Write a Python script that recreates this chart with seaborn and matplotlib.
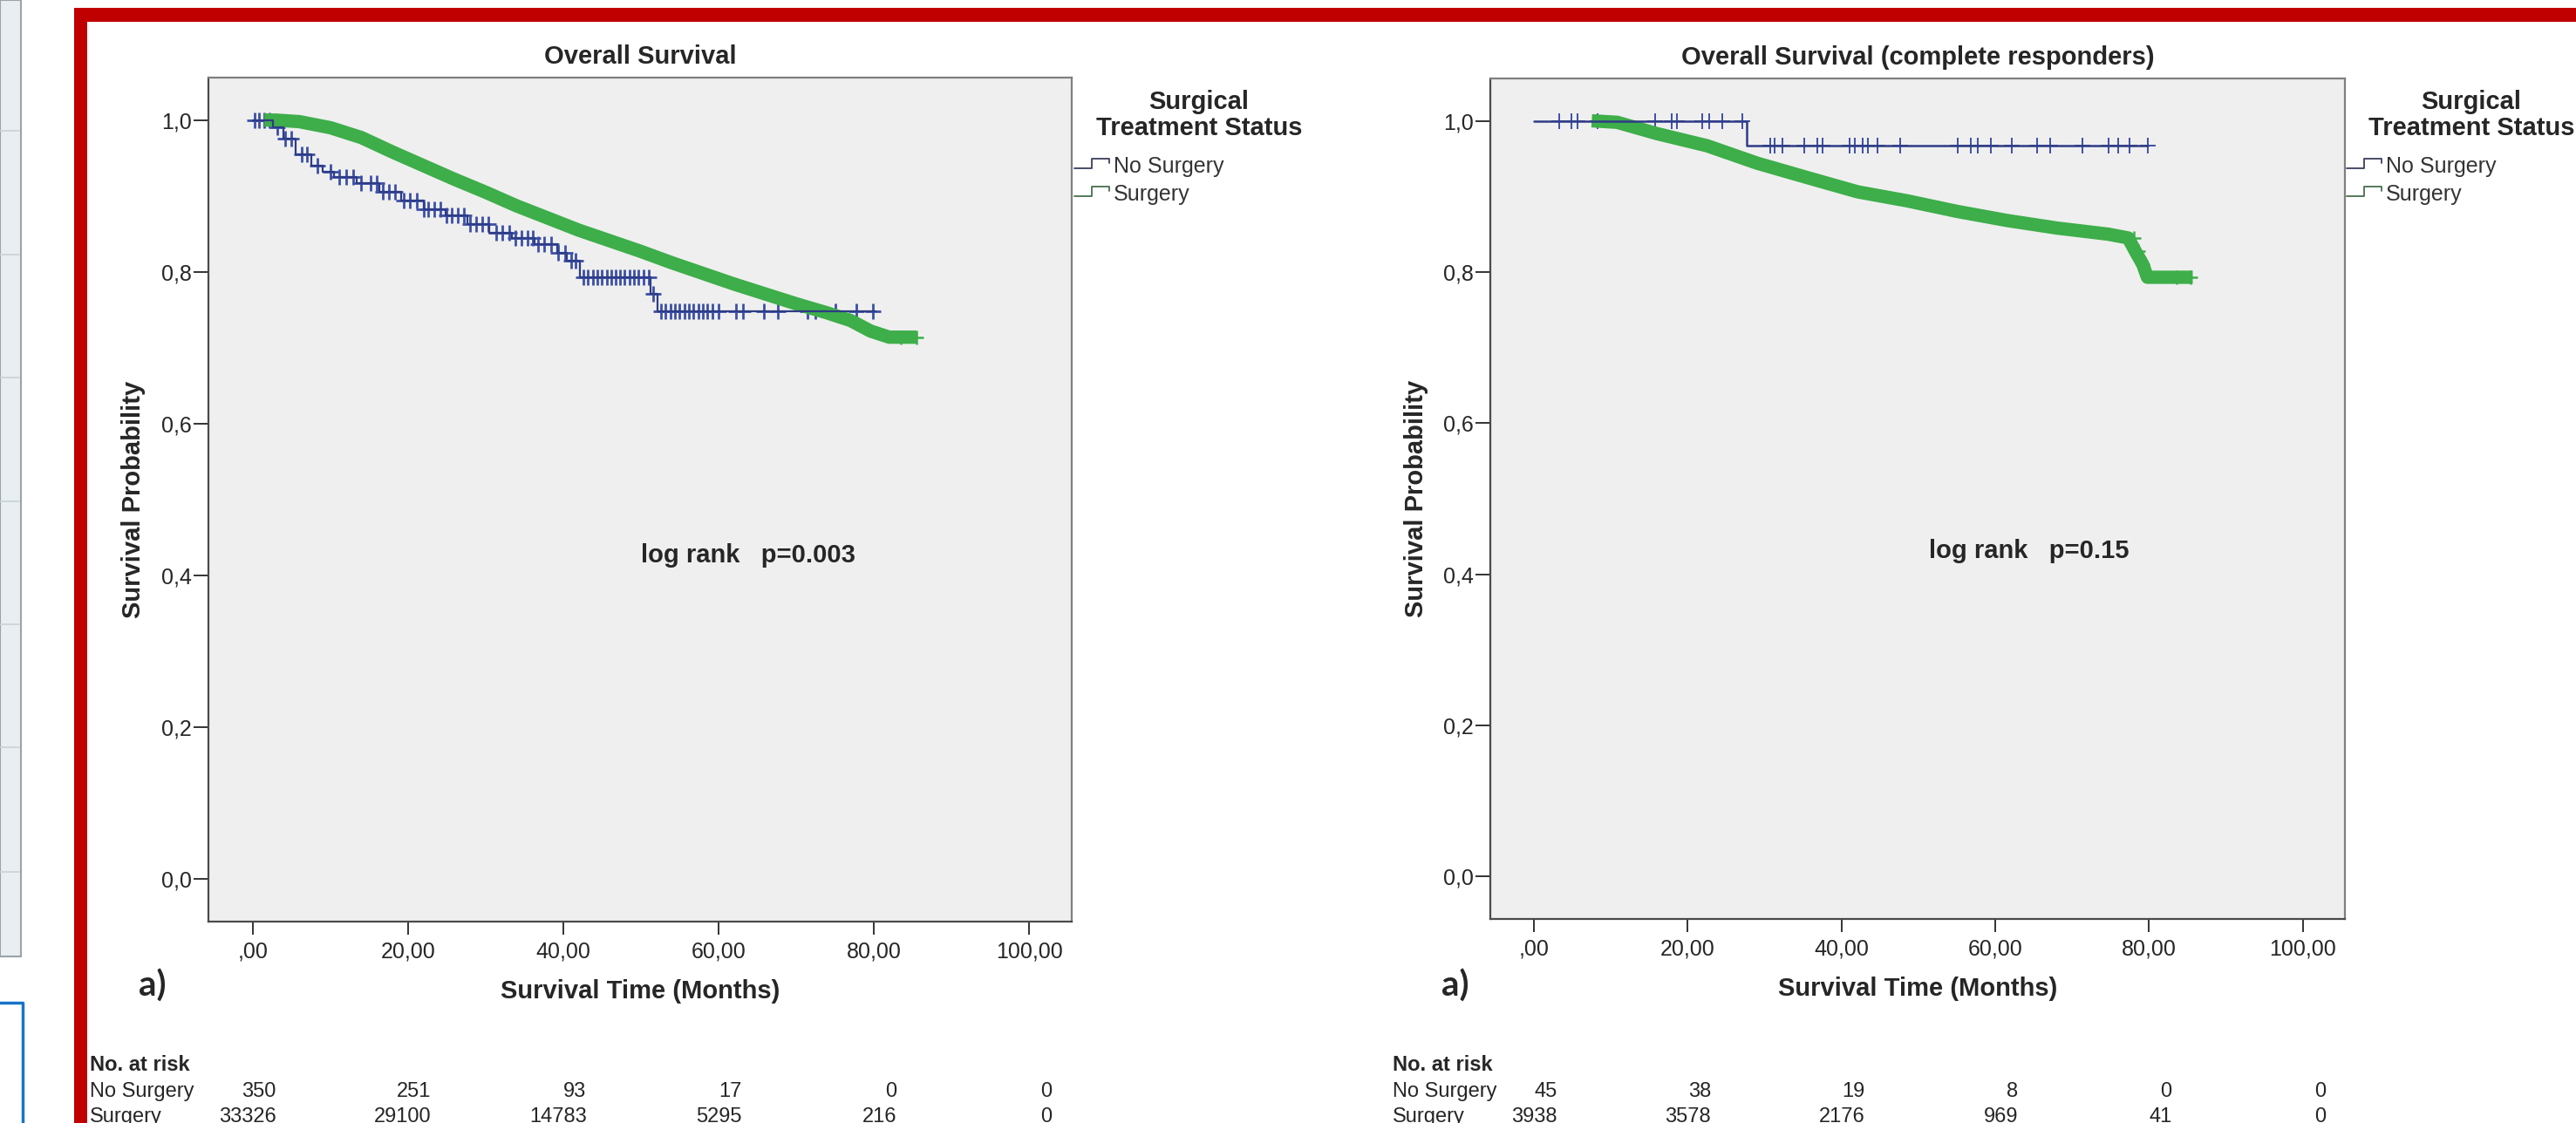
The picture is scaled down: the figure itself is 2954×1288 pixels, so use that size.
import matplotlib
matplotlib.use("Agg")
import matplotlib.pyplot as plt
import matplotlib.transforms as mtransforms
from matplotlib.lines import Line2D
from matplotlib.patches import Rectangle
import numpy as np
import pandas as pd
import seaborn as sns

# Data
months = [0, 20, 40, 60, 80, 100]
x_tick_labels = [",00", "20,00", "40,00", "60,00", "80,00", "100,00"]
y_ticks = [0.0, 0.2, 0.4, 0.6, 0.8, 1.0]
y_tick_labels = ["0,0", "0,2", "0,4", "0,6", "0,8", "1,0"]
groups = ["No Surgery", "Surgery"]

# a) overall survival
os_title = "Overall Survival"
os_ptext = "log rank   p=0.003"
os_nosurg_t = [0, 2.6, 4.0, 5.5, 7.6, 9.0, 10.5, 13.4, 16.3, 19.1, 22.0, 24.8, 27.7, 30.5,
               33.4, 36.3, 39.2, 40.5, 42.2, 51.2, 52.2, 80.2]
os_nosurg_s = [1.0, 0.99, 0.976, 0.955, 0.94, 0.932, 0.925, 0.917, 0.906, 0.894, 0.883, 0.874,
               0.863, 0.852, 0.845, 0.837, 0.825, 0.815, 0.793, 0.771, 0.748, 0.748]
os_nosurg_cens = [0.3, 0.8, 1.5, 2.2, 3.2, 4.2, 5.0, 6.3, 7.0, 8.3, 10.0, 11.2, 12.0, 13.0, 14.0,
                  15.2, 16.0, 16.8, 17.5, 18.3, 19.5, 20.3, 21.2, 22.0, 22.6, 23.4, 24.2, 25.0,
                  25.6, 26.4, 27.2, 28.0, 28.8, 29.6, 30.4, 31.4, 32.2, 33.0, 33.8, 34.6, 35.4,
                  36.1, 36.8, 37.6, 38.4, 39.3, 40.2, 41.0, 41.6, 42.6, 43.2, 43.8, 44.4, 45.0,
                  45.6, 46.2, 46.8, 47.3, 47.9, 48.5, 49.1, 49.7, 50.3, 51.0, 51.6, 52.6, 53.2,
                  53.8, 54.4, 55.0, 55.6, 56.2, 56.8, 57.4, 58.0, 58.6, 59.2, 60.0, 62.3, 63.2,
                  65.8, 67.7, 71.5, 72.5, 75.1, 77.7, 79.9]
os_surg_t = [1.5, 3, 6, 10, 14, 18, 22, 26, 30, 34, 38, 42, 46, 50, 54, 58, 62, 66, 70, 74, 77,
             79.6, 82, 85.5]
os_surg_s = [1.0, 1.0, 0.998, 0.99, 0.977, 0.958, 0.94, 0.922, 0.905, 0.887, 0.871, 0.855, 0.841,
             0.827, 0.812, 0.798, 0.784, 0.771, 0.758, 0.746, 0.736, 0.722, 0.714, 0.714]
os_surg_cens = [83.5, 85.5]
os_risk_nosurg = [350, 251, 93, 17, 0, 0]
os_risk_surg = [33326, 29100, 14783, 5295, 216, 0]

# b) complete responders
cr_title = "Overall Survival (complete responders)"
cr_ptext = "log rank   p=0.15"
cr_nosurg_t = [0, 27.7, 79.8]
cr_nosurg_s = [1.0, 0.967, 0.967]
cr_nosurg_cens = [3.3, 4.9, 5.6, 8.2, 15.7, 17.9, 18.6, 21.9, 22.8, 24.5, 27.1, 30.7, 31.3, 32.3,
                  35.2, 36.9, 37.5, 41.1, 41.7, 42.7, 43.4, 44.7, 47.6, 55.1, 56.8, 57.7, 59.4,
                  62.2, 65.5, 67.2, 71.4, 74.7, 76.0, 77.5, 79.8]
cr_surg_t = [7.5, 10.8, 16.0, 22.5, 29.0, 35.5, 42.1, 48.6, 55.1, 61.6, 68.1, 74.7, 77.3, 78.2,
             79.2, 79.8, 85.7]
cr_surg_s = [1.0, 0.998, 0.983, 0.967, 0.944, 0.925, 0.906, 0.894, 0.880, 0.868, 0.858, 0.850,
             0.845, 0.828, 0.810, 0.793, 0.793]
cr_surg_cens = [78.0, 78.6, 79.2, 83.6, 85.4]
cr_risk_nosurg = [45, 38, 19, 8, 0, 0]
cr_risk_surg = [3938, 3578, 2176, 969, 41, 0]

# Style
sns.set_style("white")
plt.rcParams["font.family"] = ["Liberation Sans", "DejaVu Sans"]

W, H = 2954, 1288
fig = plt.figure(figsize=(W / 100, H / 100), dpi=100)
fig.patch.set_facecolor("white")

GREEN = "#3DAE49"
BLUE_LINE = "#2E3C86"
BLUE_MARK = "#3D50A5"


def fx(x):
    return x / W


def fy(y):
    return 1 - y / H


def step_at(t, s, x):
    idx = np.searchsorted(np.array(t), np.array(x), side="right") - 1
    return np.array(s)[np.clip(idx, 0, len(s) - 1)]


# page decorations: side strip, blue box, red frame
fig.add_artist(Rectangle((0, fy(1097)), fx(24), 1 - fy(1097), transform=fig.transFigure,
                         facecolor="#E8EEF2", edgecolor="#9AA3A8", lw=1.5))
for yy in [150, 292, 433, 575, 716, 857, 1000]:
    fig.add_artist(Line2D([0, fx(22)], [fy(yy), fy(yy)], transform=fig.transFigure,
                          color="#C9D2D8", lw=1.2))
fig.add_artist(Line2D([0, fx(26), fx(26)], [fy(1150), fy(1150), 0], transform=fig.transFigure,
                      color="#1874C8", lw=2.5))
fig.add_artist(Rectangle((fx(85), fy(25)), 1, fy(9) - fy(25), transform=fig.transFigure,
                         facecolor="#C00000", edgecolor="none"))
fig.add_artist(Rectangle((fx(85), 0), fx(15), fy(9), transform=fig.transFigure,
                         facecolor="#C00000", edgecolor="none"))


def km_panel(box, nos_t, nos_s, nos_c, sur_t, sur_s, sur_c, title, ptext, pxy,
             risk_ns, risk_s, mark_s, mark_lw, line_lw, left_px, legend_px):
    ax = fig.add_axes(box)
    ax.set_facecolor("#EFEFEF")

    sur = pd.DataFrame({"t": sur_t, "s": sur_s})
    sns.lineplot(data=sur, x="t", y="s", estimator=None, sort=False, color=GREEN, lw=11,
                 solid_capstyle="butt", ax=ax)
    sns.scatterplot(x=sur_c, y=step_at(sur_t, sur_s, sur_c), marker="+", color=GREEN,
                    s=140, linewidth=1.8, ax=ax)

    nos = pd.DataFrame({"t": nos_t, "s": nos_s})
    sns.lineplot(data=nos, x="t", y="s", estimator=None, sort=False, drawstyle="steps-post",
                 color=BLUE_LINE, lw=line_lw, ax=ax)
    sns.scatterplot(x=nos_c, y=step_at(nos_t, nos_s, nos_c), marker="+", color=BLUE_MARK,
                    s=mark_s, linewidth=mark_lw, ax=ax)

    ax.set_xlim(-5.7, 105.5)
    ax.set_ylim(-0.056, 1.056)
    ax.set_xticks(months)
    ax.set_xticklabels(x_tick_labels)
    ax.set_yticks(y_ticks)
    ax.set_yticklabels(y_tick_labels)
    ax.tick_params(axis="y", length=12, width=1.4, pad=1.5, labelsize=18, color="#333333",
                   left=True)
    ax.tick_params(axis="x", length=11, width=1.4, pad=5, labelsize=18, color="#333333",
                   bottom=True)
    for side in ["left", "bottom"]:
        ax.spines[side].set_color("#4A4A4A")
        ax.spines[side].set_linewidth(1.6)
    for side in ["top", "right"]:
        ax.spines[side].set_color("#7F7F7F")
        ax.spines[side].set_linewidth(1.6)

    ax.set_ylabel("Survival Probability", fontsize=21, fontweight="bold")
    ax.yaxis.set_label_coords(-0.087, 0.5)
    ax.yaxis.label.set_va("center")
    ax.set_xlabel("Survival Time (Months)", fontsize=21, fontweight="bold")
    ax.xaxis.set_label_coords(0.5, -0.083)
    ax.xaxis.label.set_va("center")

    ax.text(0.5, 1.025, title, transform=ax.transAxes, ha="center", va="center",
            fontsize=21, fontweight="bold")
    ax.text(pxy[0], pxy[1], ptext, ha="left", va="center", fontsize=21, fontweight="bold")

    # label "a)"
    fig.text(fx(left_px + 72), fy(1131), "a)", ha="center", va="center", fontsize=29,
             fontweight="bold", family=["Lato", "DejaVu Sans"])

    # legend
    lx = legend_px
    fig.text(fx(lx + 143), fy(117), "Surgical", ha="center", va="center", fontsize=21,
             fontweight="bold")
    fig.text(fx(lx + 143), fy(147), "Treatment Status", ha="center", va="center", fontsize=21,
             fontweight="bold")
    for name, yy, col in zip(groups, [193, 225], ["#3A3F5C", "#46704F"]):
        xs = [lx, lx + 20, lx + 20, lx + 40, lx + 40]
        ys = [yy, yy, yy - 11, yy - 11, yy - 6]
        fig.add_artist(Line2D([fx(v) for v in xs], [fy(v) for v in ys],
                              transform=fig.transFigure, color=col, lw=1.3))
        fig.text(fx(lx + 45), fy(yy - 2), name, ha="left", va="center", fontsize=18,
                 color="#333333")

    # number at risk table
    tr = mtransforms.blended_transform_factory(ax.transData, fig.transFigure)
    fig.text(fx(left_px), fy(1221), "No. at risk", ha="left", va="center", fontsize=17,
             fontweight="bold")
    for name, row, yy in zip(groups, [risk_ns, risk_s], [1252, 1281]):
        fig.text(fx(left_px), fy(yy), name, ha="left", va="center", fontsize=17)
        for m, n in zip(months, row):
            ax.text(m + 3.0, fy(yy), str(n), transform=tr, ha="right", va="center",
                    fontsize=17, clip_on=False)
    return ax


km_panel([fx(239), fy(1057), fx(990), 968 / H],
         os_nosurg_t, os_nosurg_s, os_nosurg_cens, os_surg_t, os_surg_s, os_surg_cens,
         os_title, os_ptext, (50.0, 0.426), os_risk_nosurg, os_risk_surg,
         mark_s=150, mark_lw=2.0, line_lw=1.6, left_px=103, legend_px=1232)

km_panel([fx(1709), fy(1054), fx(980), 964 / H],
         cr_nosurg_t, cr_nosurg_s, cr_nosurg_cens, cr_surg_t, cr_surg_s, cr_surg_cens,
         cr_title, cr_ptext, (51.4, 0.431), cr_risk_nosurg, cr_risk_surg,
         mark_s=170, mark_lw=1.4, line_lw=1.8, left_px=1597, legend_px=2691)

plt.savefig("out.png", dpi=100)
